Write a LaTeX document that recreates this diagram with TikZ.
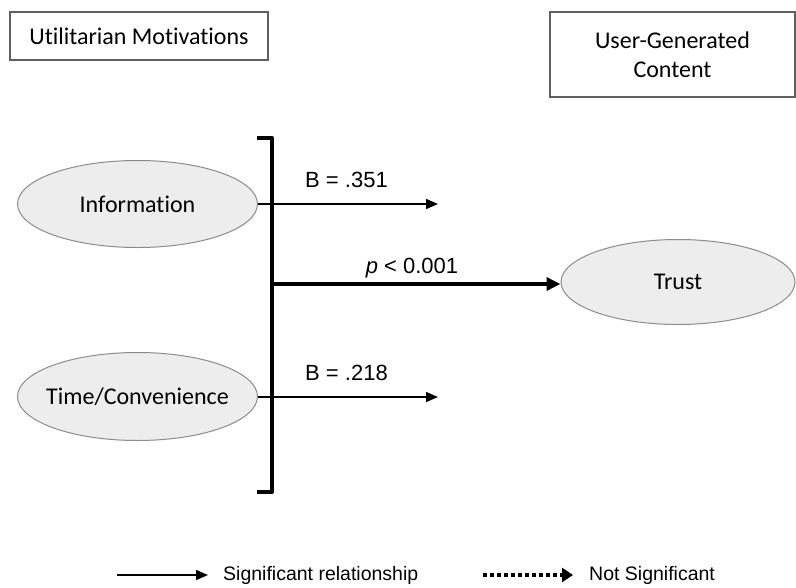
\documentclass[tikz,border=0pt]{standalone}
\usepackage{fontspec}
\setmainfont{Carlito}[Ligatures={NoCommon}]
\newfontfamily\arialfont{Liberation Sans}
\usetikzlibrary{shapes.geometric,arrows.meta}
\definecolor{ovalfill}{HTML}{EDEDED}
\definecolor{ovalline}{HTML}{8C8C8C}
\definecolor{boxline}{HTML}{606060}
\tikzset{
  titlebox/.style={draw=boxline,line width=1.2pt,inner sep=0pt,font=\fontsize{24}{29}\selectfont,align=center},
  construct/.style={ellipse,draw=ovalline,fill=ovalfill,line width=1pt,inner xsep=-12pt,inner ysep=0pt,font=\fontsize{24}{29}\selectfont},
  coef/.style={font=\arialfont\fontsize{22}{26}\selectfont,inner sep=0pt},
  legendtext/.style={font=\arialfont\fontsize{19.5}{24}\selectfont,inner sep=0pt,anchor=west},
  thinarrow/.style={line width=1.5pt,-{Triangle[length=12pt,width=10pt]}},
  thickarrow/.style={line width=4pt,-{Triangle[length=14pt,width=13pt]}},
  bracketline/.style={line width=4pt,line join=round,line cap=butt},
  dotarrow/.style={line width=4pt,dash pattern=on 3.5pt off 3.5pt,-{Triangle[length=11pt,width=14pt]}},
}
\begin{document}
\begin{tikzpicture}[x=1pt,y=-1pt]
\useasboundingbox (0,0) rectangle (796,587);

% heading boxes
\node[titlebox,minimum width=258pt,minimum height=48pt] (util) at (139,36) {Utilitarian Motivations};
\node[titlebox,minimum width=245pt,minimum height=85pt] (ugc) at (672.5,54.5) {User-Generated\\Content};

% constructs
\node[construct,minimum width=240pt,minimum height=87pt] (info) at (137.5,204) {Information};
\node[construct,minimum width=240pt,minimum height=88pt] (time) at (137.5,396.5) {Time/Convenience};
\node[construct,minimum width=234pt,minimum height=85pt] (trust) at (678,282) {Trust};

% bracket grouping the predictors
\coordinate (btop) at (272,138);
\coordinate (bbot) at (272,492);
\coordinate (bmid) at (272,284);
\draw[bracketline] (257,138) -- (btop) -- (bbot) -- (257,492);

% paths
\coordinate (infoend) at (438,204);
\coordinate (timeend) at (438,397);
\draw[thinarrow] (info.east) -- (infoend);
\draw[thinarrow] (time.east |- timeend) -- (timeend);
\draw[thickarrow] (bmid) -- (trust.west |- bmid);

% coefficients
\node[coef,anchor=west] (b1) at (305,180) {B = .351};
\node[coef,anchor=west] (b2) at (305,373) {B = .218};
\node[coef] (pval) at (412,268) {\textit{p} < 0.001};

% legend
\coordinate (l1s) at (117,575);
\coordinate (l1e) at (208,575);
\coordinate (l2s) at (483,575);
\coordinate (l2e) at (573,575);
\draw[thinarrow] (l1s) -- (l1e);
\node[legendtext] (sig) at (223,575) {Significant relationship};
\draw[dotarrow] (l2s) -- (l2e);
\node[legendtext] (nsig) at (589,575) {Not Significant};
\end{tikzpicture}
\end{document}
